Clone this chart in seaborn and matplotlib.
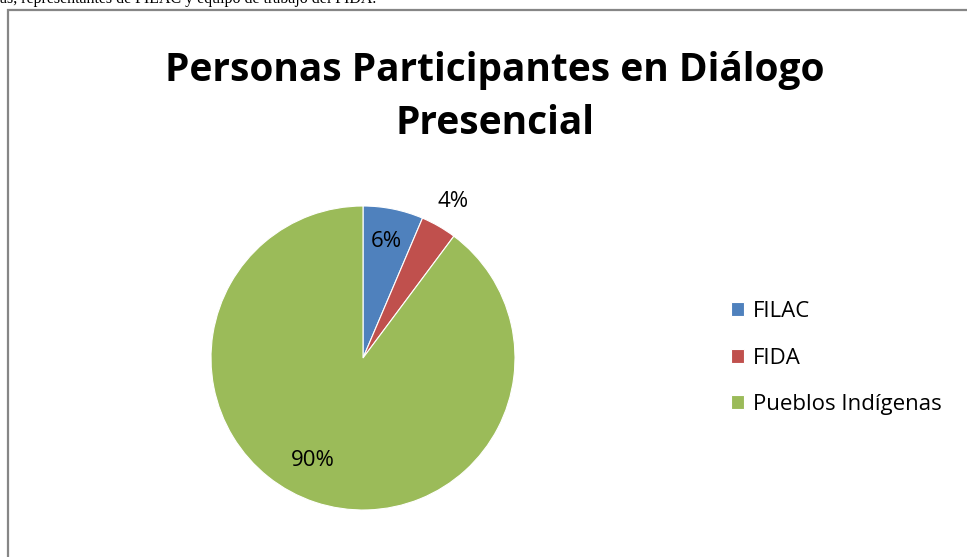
import numpy as np
import seaborn as sns
import matplotlib.pyplot as plt
from matplotlib.patches import Rectangle

# datos
categorias = ['FILAC', 'FIDA', 'Pueblos Indígenas']
porcentajes = [6.4, 3.8, 89.8]
colores = ['#4F81BD', '#C0504D', '#9BBB59']
titulo = 'Personas Participantes en Diálogo\nPresencial'
texto_superior = 'as, representantes de FILAC y equipo de trabajo del FIDA.'

sns.set_theme(style='white')
plt.rcParams['font.family'] = ['Open Sans', 'DejaVu Sans']
plt.rcParams['text.color'] = 'black'

W, H = 967, 557
fig = plt.figure(figsize=(W / 100, H / 100), dpi=100)

# texto cortado del documento arriba
fig.text(0, 1 - 3 / H, texto_superior, fontsize=11.5, family=['Liberation Serif'],
         va='baseline', ha='left', color='black')

# marco gris
fig.patches.append(Rectangle((8 / W, -0.05), 1.2, (H - 10) / H + 0.05,
                             transform=fig.transFigure, fill=False,
                             edgecolor='#868686', linewidth=1.6))

fig.text(495 / W, 1 - 97 / H, titulo, ha='center', va='center', fontsize=28,
         fontweight='bold', linespacing=1.5, color='black')

# pastel
cx, cy, r = 363, 358, 152
ax = fig.add_axes([(cx - r) / W, (H - cy - r) / H, 2 * r / W, 2 * r / H])
wedges, textos, autotextos = ax.pie(porcentajes, colors=colores, startangle=90,
                                    counterclock=False, radius=1,
                                    autopct='%1.0f%%', pctdistance=0.78,
                                    wedgeprops=dict(linewidth=0.8, edgecolor='white'),
                                    textprops=dict(fontsize=16, color='black'))
# etiqueta FIDA fuera del pastel
w = wedges[1]
ang = np.deg2rad((w.theta1 + w.theta2) / 2)
autotextos[1].set_position((1.19 * np.cos(ang), 1.19 * np.sin(ang)))
# etiqueta grande algo mas hacia la izquierda
w = wedges[2]
ang = np.deg2rad((w.theta1 + w.theta2) / 2 - 8)
autotextos[2].set_position((0.75 * np.cos(ang), 0.75 * np.sin(ang)))
ax.set_xlim(-1, 1)
ax.set_ylim(-1, 1)
ax.set_aspect('equal')
ax.axis('off')

fig.legend(wedges, categorias, loc='center left', bbox_to_anchor=(722 / W, 1 - 358 / H),
           frameon=False, fontsize=16, handlelength=0.6, handleheight=0.6,
           handletextpad=0.4, labelspacing=1.15, borderaxespad=0,
           labelcolor='black')

fig.savefig('out.png', dpi=100)
